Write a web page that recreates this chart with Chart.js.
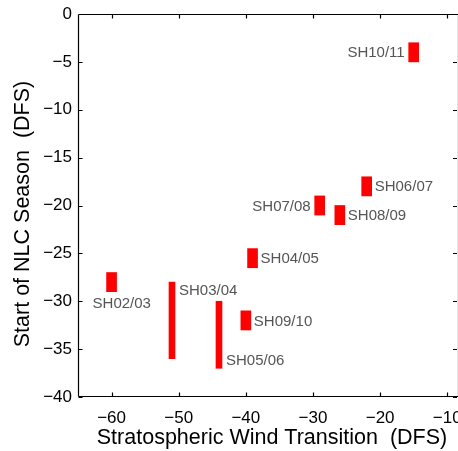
<!DOCTYPE html>
<html>
<head>
<meta charset="utf-8">
<script src="https://cdn.jsdelivr.net/npm/chart.js@4/dist/chart.umd.min.js"></script>
<style>
  html, body { margin: 0; padding: 0; background: #fff; }
  #wrap { width: 458px; height: 451px; position: relative; }
</style>
</head>
<body>
<div id="wrap"><canvas id="c" width="458" height="451"></canvas></div>
<script>
// ---- data ----
const seasons   = ['SH02/03', 'SH03/04', 'SH04/05', 'SH05/06', 'SH06/07', 'SH07/08', 'SH08/09', 'SH09/10', 'SH10/11'];
const windTransition = [-60, -51, -39, -44, -22, -29, -26, -40, -15];   // DFS
const nlcStartLow    = [-29, -36, -26.5, -37, -19, -21, -22, -33, -5];  // DFS
const nlcStartHigh   = [-27, -28, -24.5, -30, -17, -19, -20, -31, -3];  // DFS
const xTicks = [-60, -50, -40, -30, -20, -10];
const yTicks = [0, -5, -10, -15, -20, -25, -30, -35, -40];

// ---- styling / placement (not data) ----
const thinBars = ['SH03/04', 'SH05/06'];
const labelPlacement = {
  'SH02/03': { mode: 'below' },
  'SH03/04': { mode: 'rightTop' },
  'SH04/05': { mode: 'right' },
  'SH05/06': { mode: 'rightBottom' },
  'SH06/07': { mode: 'right' },
  'SH07/08': { mode: 'left' },
  'SH08/09': { mode: 'right' },
  'SH09/10': { mode: 'right' },
  'SH10/11': { mode: 'left' }
};

function pts(filterFn) {
  const out = [];
  seasons.forEach((s, i) => {
    if (filterFn(s)) out.push({ x: windTransition[i], y: [nlcStartLow[i], nlcStartHigh[i]], name: s });
  });
  return out;
}

const minus = v => (v < 0 ? '\u2212' + Math.abs(v) : String(v));

const framePlugin = {
  id: 'frame',
  afterDraw(chart) {
    const ctx = chart.ctx;
    const a = chart.chartArea;
    const xs = chart.scales.x, ys = chart.scales.y;
    ctx.save();
    // labels
    ctx.font = '15px "Liberation Sans", Arial, sans-serif';
    ctx.fillStyle = '#555555';
    ctx.textBaseline = 'middle';
    chart.data.datasets.forEach((ds, di) => {
      const meta = chart.getDatasetMeta(di);
      meta.data.forEach((bar, j) => {
        const p = ds.data[j];
        const props = bar.getProps(['x', 'y', 'base', 'width'], true);
        const cx = props.x, half = props.width / 2;
        const top = Math.min(props.y, props.base), bot = Math.max(props.y, props.base);
        const mid = (top + bot) / 2;
        const mode = labelPlacement[p.name].mode;
        if (mode === 'left') {
          ctx.textAlign = 'right'; ctx.fillText(p.name, cx - half - 4, mid + 1);
        } else if (mode === 'right') {
          ctx.textAlign = 'left'; ctx.fillText(p.name, cx + half + 3, mid + 1);
        } else if (mode === 'rightTop') {
          ctx.textAlign = 'left'; ctx.fillText(p.name, cx + half + 4, top + 9);
        } else if (mode === 'rightBottom') {
          ctx.textAlign = 'left'; ctx.fillText(p.name, cx + half + 4, bot - 7);
        } else if (mode === 'below') {
          ctx.textAlign = 'left'; ctx.fillText(p.name, cx - 19, bot + 12);
        }
      });
    });
    // frame
    ctx.strokeStyle = '#000';
    ctx.lineWidth = 1.2;
    const L = Math.round(a.left) + 0.5, R = Math.round(a.right) + 0.5;
    const T = Math.round(a.top) + 0.5, B = Math.round(a.bottom) - 0.5;
    ctx.beginPath();
    ctx.moveTo(L, T); ctx.lineTo(R, T);
    ctx.moveTo(L, B); ctx.lineTo(R, B);
    ctx.moveTo(L, T); ctx.lineTo(L, B);
    ctx.moveTo(R, T); ctx.lineTo(R, B);
    const tl = 4;
    xTicks.forEach(v => {
      const px = Math.round(xs.getPixelForValue(v)) + 0.5;
      ctx.moveTo(px, B); ctx.lineTo(px, B - tl);
      ctx.moveTo(px, T); ctx.lineTo(px, T + tl);
    });
    yTicks.forEach(v => {
      const py = Math.round(ys.getPixelForValue(v)) + 0.5;
      ctx.moveTo(L, py); ctx.lineTo(L + tl, py);
      ctx.moveTo(a.right - 1, py); ctx.lineTo(a.right - 1 - tl, py);
    });
    ctx.stroke();
    // axis titles
    ctx.fillStyle = '#000';
    ctx.font = '21.5px "Liberation Sans", Arial, sans-serif';
    ctx.textAlign = 'center';
    ctx.textBaseline = 'alphabetic';
    ctx.fillText('Stratospheric Wind Transition  (DFS)', 272, 444);
    ctx.save();
    ctx.translate(28.5, 214);
    ctx.rotate(-Math.PI / 2);
    ctx.fillText('Start of NLC Season  (DFS)', 0, 0);
    ctx.restore();
    ctx.restore();
  }
};

new Chart(document.getElementById('c'), {
  type: 'bar',
  data: {
    datasets: [
      { data: pts(s => !thinBars.includes(s)), barThickness: 10, backgroundColor: '#ff0000', borderWidth: 0, grouped: false },
      { data: pts(s => thinBars.includes(s)),  barThickness: 6,  backgroundColor: '#ff0000', borderWidth: 0, grouped: false }
    ]
  },
  options: {
    responsive: false,
    animation: false,
    events: [],
    layout: { padding: { left: 0, right: 0, top: 14, bottom: 0 } },
    plugins: { legend: { display: false }, tooltip: { enabled: false }, title: { display: false } },
    scales: {
      x: {
        type: 'linear',
        min: -65, max: -8.4,
        offset: false,
        grid: { display: false, drawTicks: false },
        border: { display: false },
        afterBuildTicks: s => { s.ticks = xTicks.map(v => ({ value: v })); },
        afterFit: s => { s.height = 54; s.paddingLeft = 0; s.paddingRight = 0; },
        ticks: {
          color: '#000',
          font: { family: '"Liberation Sans", Arial, sans-serif', size: 17 },
          padding: 11,
          maxRotation: 0,
          autoSkip: false,
          callback: v => minus(v)
        }
      },
      y: {
        type: 'linear',
        min: -40, max: 0,
        grid: { display: false, drawTicks: false },
        border: { display: false },
        afterBuildTicks: s => { s.ticks = yTicks.map(v => ({ value: v })); },
        afterFit: s => { s.width = 78; s.paddingTop = 0; s.paddingBottom = 0; },
        ticks: {
          color: '#000',
          font: { family: '"Liberation Sans", Arial, sans-serif', size: 17 },
          padding: 6,
          autoSkip: false,
          callback: v => minus(v)
        }
      }
    }
  },
  plugins: [framePlugin]
});
</script>
</body>
</html>
